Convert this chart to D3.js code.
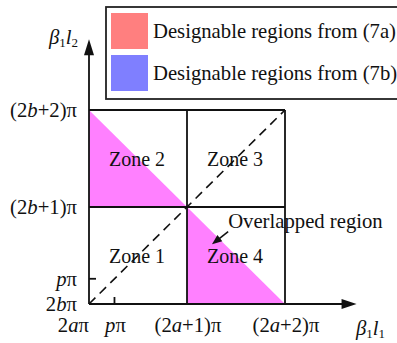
<!DOCTYPE html>
<html><head><meta charset="utf-8">
<script src="https://cdn.jsdelivr.net/npm/d3@7"></script>
<style>body{margin:0;background:#fff}svg{display:block}text{font-family:"Liberation Serif","Times New Roman",serif;fill:#111}</style>
</head><body><svg id="c" width="397" height="343"></svg>
<script>
// ---- data (units of pi offset from 2a*pi / 2b*pi) ----
const pVal = 0.26;
const xTicks = [0, pVal, 1, 2];
const xTickLabels = ["2aπ", "pπ", "(2a+1)π", "(2a+2)π"];
const yTicks = [0, pVal, 1, 2];
const yTickLabels = ["2bπ", "pπ", "(2b+1)π", "(2b+2)π"];
const zoneNames = ["Zone 1", "Zone 2", "Zone 3", "Zone 4"];
const zoneX = [0.5, 0.5, 1.5, 1.5];
const zoneY = [0.5, 1.5, 1.5, 0.5];
const regionZone2 = [[0, 2], [0, 1], [1, 1]];
const regionZone4 = [[1, 1], [1, 0], [2, 0]];
const diagonal = [[0, 0], [2, 2]];
const legendLabels = ["Designable regions from (7a)", "Designable regions from (7b)"];
const legendColors = ["#ff7f7f", "#7f7fff"];
const overlapColor = "#ff80ff";
const axisMax = 2.73;

const svg = d3.select("#c");
const x = d3.scaleLinear().domain([0, 2]).range([89, 285]);
const y = d3.scaleLinear().domain([0, 2]).range([304, 110]);
const line = d3.line().x(d => x(d[0])).y(d => y(d[1]));

function richText(sel, str) {
  const parts = str.split(/([abp])/).filter(s => s.length);
  parts.forEach(s => {
    const t = sel.append("tspan").text(s);
    if (/^[abp]$/.test(s)) t.attr("font-style", "italic");
  });
}

[regionZone2, regionZone4].forEach(r => {
  svg.append("path").attr("d", line(r) + "Z").attr("fill", overlapColor);
});

const stroke = "#111", sw = 1.8;
const box = [
  [[0, 2], [2, 2]], [[2, 0], [2, 2]], [[1, 0], [1, 2]], [[0, 1], [2, 1]]
];
box.forEach(s => svg.append("path").attr("d", line(s)).attr("stroke", stroke).attr("stroke-width", sw).attr("fill", "none"));

svg.append("path").attr("d", line(diagonal)).attr("stroke", stroke).attr("stroke-width", 1.6)
  .attr("stroke-dasharray", "9,6").attr("fill", "none");

svg.append("line").attr("x1", x(0)).attr("y1", y(0)).attr("x2", x(axisMax) - 12).attr("y2", y(0))
  .attr("stroke", stroke).attr("stroke-width", sw);
svg.append("line").attr("x1", x(0)).attr("y1", y(0)).attr("x2", x(0)).attr("y2", y(axisMax) + 12)
  .attr("stroke", stroke).attr("stroke-width", sw);
const xe = x(axisMax), ye = y(axisMax);
svg.append("path").attr("d", `M${xe},${y(0)} L${xe - 15},${y(0) - 5} L${xe - 15},${y(0) + 5}Z`).attr("fill", stroke);
svg.append("path").attr("d", `M${x(0)},${ye} L${x(0) - 5},${ye + 16} L${x(0) + 5},${ye + 16}Z`).attr("fill", stroke);

svg.append("line").attr("x1", x(pVal)).attr("x2", x(pVal)).attr("y1", y(0)).attr("y2", y(0) - 7).attr("stroke", stroke).attr("stroke-width", sw);
svg.append("line").attr("y1", y(pVal)).attr("y2", y(pVal)).attr("x1", x(0)).attr("x2", x(0) + 7).attr("stroke", stroke).attr("stroke-width", sw);

const fs = 20.7, zfs = 20;
xTicks.forEach((v, i) => {
  const t = svg.append("text").attr("x", i === 0 ? x(v) : x(v) + 1).attr("y", 332)
    .attr("font-size", fs).attr("text-anchor", i === 0 ? "end" : "middle");
  richText(t, xTickLabels[i]);
});
yTicks.forEach((v, i) => {
  const t = svg.append("text").attr("x", 77).attr("y", y(v) + 7)
    .attr("font-size", fs).attr("text-anchor", "end");
  richText(t, yTickLabels[i]);
});

function axisTitle(xx, yy, sub2, anchor) {
  const t = svg.append("text").attr("x", xx).attr("y", yy).attr("font-size", fs).attr("text-anchor", anchor);
  t.append("tspan").attr("font-style", "italic").text("β");
  t.append("tspan").attr("font-size", 13).attr("dy", 3).text("1");
  t.append("tspan").attr("font-style", "italic").attr("dy", -3).text("l");
  t.append("tspan").attr("font-size", 13).attr("dy", 3).text(sub2);
}
axisTitle(78, 44, "2", "end");
axisTitle(356, 335, "1", "start");

zoneNames.forEach((n, i) => {
  svg.append("text").attr("x", x(zoneX[i]) - 1).attr("y", y(zoneY[i]) + 7)
    .attr("font-size", zfs).attr("text-anchor", "middle").text(n);
});

svg.append("text").attr("x", x(1.42)).attr("y", y(0.78)).attr("font-size", fs).text("Overlapped region");
const a0 = [x(1.42), y(0.745)], a1 = [x(1.255), y(0.615)];
svg.append("line").attr("x1", a0[0]).attr("y1", a0[1]).attr("x2", a1[0] + 6).attr("y2", a1[1] - 4.7)
  .attr("stroke", stroke).attr("stroke-width", 1.6);
{
  const ang = Math.atan2(a1[1] - a0[1], a1[0] - a0[0]);
  const L = 10, W = 4;
  const bx = a1[0] - L * Math.cos(ang), by = a1[1] - L * Math.sin(ang);
  const px = -Math.sin(ang) * W, py = Math.cos(ang) * W;
  svg.append("path").attr("d", `M${a1[0]},${a1[1]} L${bx + px},${by + py} L${bx - px},${by - py}Z`).attr("fill", stroke);
}

svg.append("rect").attr("x", 106).attr("y", 7).attr("width", 292).attr("height", 92)
  .attr("fill", "#fff").attr("stroke", "#222").attr("stroke-width", 1.8);
legendLabels.forEach((l, i) => {
  const cy = 31 + i * 42;
  svg.append("rect").attr("x", 111).attr("y", cy - 18).attr("width", 37).attr("height", 36).attr("fill", legendColors[i]);
  svg.append("text").attr("x", 153).attr("y", cy + 7).attr("font-size", fs).text(l);
});
</script></body></html>
